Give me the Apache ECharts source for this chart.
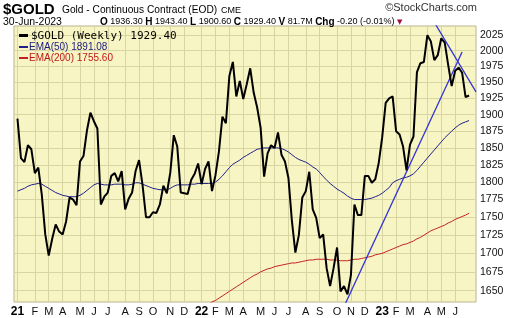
<!DOCTYPE html>
<html><head><meta charset="utf-8">
<script src="https://cdn.jsdelivr.net/npm/echarts@6/dist/echarts.min.js"></script>
<style>html,body{margin:0;padding:0;background:#fff}#c{width:520px;height:318px}</style>
</head><body><div id="c"></div>
<script>
// Weekly bars, first bar = week ending Fri 1-Jan-2021, last = 30-Jun-2023
const firstWeek = '2021-01-01';
const goldClose = [
1894,1835,1829,1854,1848,1813,1821,1782,1726,1697,1720,1740,1730,1726,1744,1778,1775,1767,1830,1838,
1876,1903,1890,1879,1768,1779,1785,1809,1813,1801,1816,1761,1776,1785,1816,1832,1796,1750,1750,1757,
1756,1768,1795,1784,1814,1869,1852,1785,1784,1783,1803,1812,1827,1797,1819,1830,1787,1810,1845,1897,
1887,1960,1982,1928,1952,1924,1947,1972,1934,1911,1880,1808,1842,1854,1850,1873,1840,1830,1806,1745,
1701,1725,1778,1787,1815,1761,1749,1721,1726,1680,1656,1680,1708,1649,1656,1645,1671,1768,1753,1753,
1809,1809,1799,1804,1828,1866,1918,1925,1928,1875,1870,1852,1817,1855,1867,1966,1980,1982,2025,2015,
1985,1993,2020,2013,1977,1944,1968,1973,1965,1927,1929.4];
const ema50 = [
1787,1789,1791,1794,1796,1797,1798,1797,1794,1791,1788,1785,1783,1781,1780,1779,1779,1779,1781,1784,
1788,1792,1796,1798,1797,1796,1796,1796,1797,1797,1797,1796,1796,1797,1799,1799,1797,1795,1793,1791,
1790,1789,1789,1789,1791,1794,1796,1796,1796,1796,1797,1797,1798,1798,1798,1798,1798,1800,1804,1809,
1815,1821,1826,1829,1832,1836,1839,1842,1845,1848,1849,1850,1850,1850,1850,1850,1849,1847,1844,1840,
1836,1833,1831,1829,1826,1822,1819,1814,1808,1803,1798,1794,1790,1787,1784,1780,1777,1775,1775,1775,
1775,1776,1777,1779,1781,1784,1788,1792,1799,1802,1804,1806,1807,1809,1812,1817,1823,1829,1835,1841,
1847,1853,1859,1865,1870,1875,1880,1884,1887,1889,1891.08];
const ema200StartWeek = 50;
const ema200 = [
1621,1623,1625,1627,1630,1632,1635,1637,1640,1643,1646,1649,1652,1655,1658,1661,1664,1667,1670,1672,
1675,1677,1679,1680,1682,1683,1684,1685,1686,1687,1687,1688,1689,1690,1691,1691,1692,1692,1692,1692,
1691,1691,1691,1690,1690,1690,1691,1692,1692,1693,1694,1695,1696,1698,1699,1700,1702,1704,1706,1708,
1710,1712,1713,1715,1717,1720,1722,1725,1728,1731,1733,1735,1737,1739,1742,1744,1747,1749,1751,1753,1755.6];
// hand-drawn trendlines: [week index, price]
const trendUp = [[94,1629],[128,1998]];
const trendDown = [[120,2046],[132,1935]];
const yTicks = [1650,1675,1700,1725,1750,1775,1800,1825,1850,1875,1900,1925,1950,1975,2000,2025];
const monthLetters = ['J','F','M','A','M','J','J','A','S','O','N','D'];

// category axis: one padding week before, two after
const cats = [];
const start = new Date(firstWeek + 'T00:00:00Z');
for (let k = -1; k <= goldClose.length + 1; k++) {
  const d = new Date(start.getTime() + k * 7 * 86400000);
  cats.push(d.toISOString().slice(0, 10));
}
const nData = goldClose.length;
function isMonthStart(idx) {
  if (idx < 1 || idx > nData) return false;
  return cats[idx].slice(5, 7) !== cats[idx - 1].slice(5, 7);
}
const pts = (arr, off) => arr.map((v, i) => [i + 1 + off, v]);

const chart = echarts.init(document.getElementById('c'), null, {renderer: 'canvas'});
const txt = (x, y, text, font, fill, align, rich) => ({
  type: 'text', x: x, y: y, silent: true, z: 100,
  style: {text: text, font: font, fill: fill || '#000', textAlign: align || 'left', textVerticalAlign: 'middle', verticalAlign: 'middle', rich: rich}
});
const F = 'Liberation Sans, Arial, sans-serif';
const ohlcRich = {
  b: {fontFamily: F, fontSize: 10, fontWeight: 'bold', fill: '#000'},
  n: {fontFamily: F, fontSize: 9, fill: '#000'},
  t: {fontFamily: 'DejaVu Sans, sans-serif', fontSize: 7, fill: '#a0103a'}
};
const ohlcText = '{b|O} {n|1936.30} {b|H} {n|1943.40} {b|L} {n|1900.60} {b|C} {n|1929.40} {b|V} {n|81.7M} {b|Chg} {n|-0.20 (-0.01%)} {t|\u25bc}';
chart.setOption({
  animation: false,
  backgroundColor: '#ffffff',
  grid: {left: 14, right: 44, top: 26, bottom: 16, show: true, backgroundColor: '#f8f5c4', borderColor: '#b9b58c', borderWidth: 1},
  xAxis: {
    type: 'category', data: cats, boundaryGap: false,
    axisLine: {show: false}, axisTick: {show: false},
    axisLabel: {
      interval: (i) => isMonthStart(i), margin: 4,
      fontFamily: F, fontSize: 11, color: '#111',
      formatter: (v) => {
        const m = parseInt(v.slice(5, 7), 10) - 1;
        return m === 0 ? '{y|' + v.slice(2, 4) + '}' : monthLetters[m];
      },
      rich: {y: {fontFamily: F, fontSize: 12, fontWeight: 'bold', color: '#000'}}
    },
    splitLine: {show: true, interval: (i) => isMonthStart(i), lineStyle: {color: '#d9d5a3', width: 1}}
  },
  yAxis: {
    type: 'log', logBase: 10, position: 'right', min: 1635, max: 2040,
    axisLine: {show: false}, axisTick: {show: false, customValues: yTicks},
    axisLabel: {customValues: yTicks, fontFamily: F, fontSize: 10.5, color: '#111', margin: 4, formatter: (v) => String(Math.round(v))},
    splitLine: {show: true, lineStyle: {color: '#d9d5a3', width: 1}}
  },
  series: [
    {type: 'line', data: pts(ema200, ema200StartWeek), symbol: 'none', lineStyle: {color: '#c42222', width: 1}, z: 2},
    {type: 'line', data: pts(ema50, 0), symbol: 'none', lineStyle: {color: '#20208a', width: 1}, z: 3},
    {type: 'line', data: trendUp.map(p => [p[0] + 1, p[1]]), symbol: 'none', lineStyle: {color: '#3434d4', width: 1.3}, z: 4},
    {type: 'line', data: trendDown.map(p => [p[0] + 1, p[1]]), symbol: 'none', lineStyle: {color: '#3434d4', width: 1.3}, z: 4},
    {type: 'line', data: pts(goldClose, 0), symbol: 'none', lineStyle: {color: '#000', width: 2}, z: 5}
  ],
  graphic: [
    txt(3, 10, '$GOLD', 'bold 15px ' + F),
    txt(62, 10, 'Gold - Continuous Contract (EOD)', '10.2px ' + F),
    txt(221, 11, 'CME', '9px ' + F),
    txt(477, 8, '\u00a9StockCharts.com', '11px ' + F, '#333', 'right'),
    txt(3, 22, '30-Jun-2023', '10.5px ' + F),
    txt(100, 22, ohlcText, '9px ' + F, '#000', 'left', ohlcRich),
    {type: 'rect', z: 100, shape: {x: 19, y: 34, width: 9, height: 3}, style: {fill: '#000'}, silent: true},
    txt(31, 36, '$GOLD (Weekly) 1929.40', '11px DejaVu Sans Mono, monospace', '#000'),
    {type: 'rect', z: 100, shape: {x: 19, y: 46, width: 9, height: 2}, style: {fill: '#20208a'}, silent: true},
    txt(29, 47, 'EMA(50) 1891.08', '10px ' + F, '#1a1a80'),
    {type: 'rect', z: 100, shape: {x: 19, y: 57, width: 9, height: 2}, style: {fill: '#c42222'}, silent: true},
    txt(29, 58, 'EMA(200) 1755.60', '10px ' + F, '#c01818')
  ]
});
</script></body></html>
